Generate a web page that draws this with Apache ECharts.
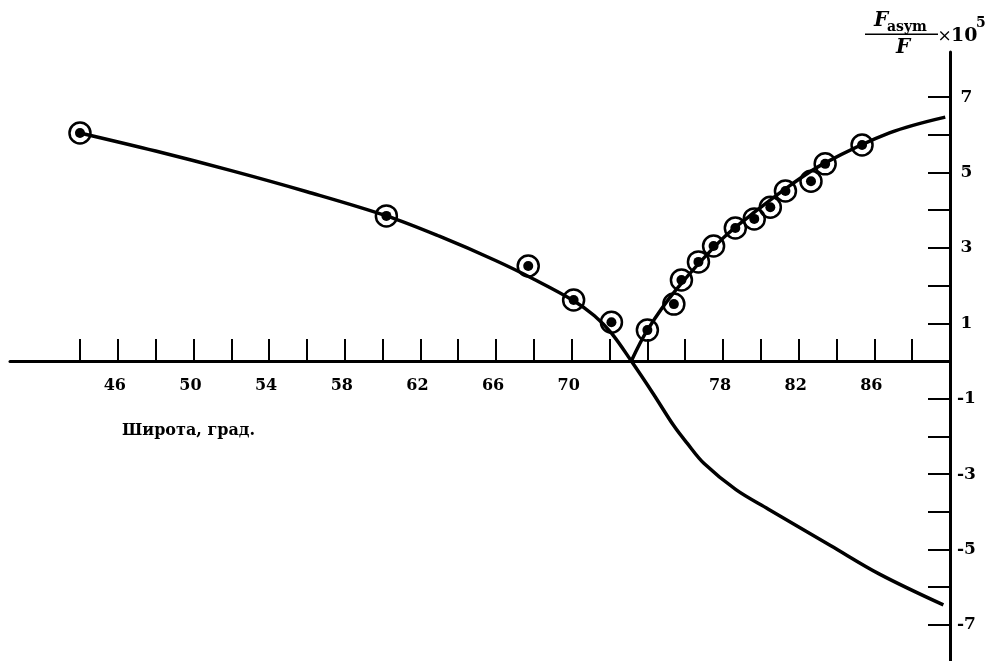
<!DOCTYPE html>
<html>
<head>
<meta charset="utf-8">
<script src="https://cdn.jsdelivr.net/npm/echarts@6/dist/echarts.min.js"></script>
<style>
  html, body { margin: 0; padding: 0; background: #fff; }
  #chart { width: 987px; height: 661px; }
</style>
</head>
<body>
<div id="chart"></div>
<script>
// Latitude (degrees) and asymmetry ratio (x 1e-5)

// Measured points
const obsLat = [44, 60.2, 67.7, 70.1, 72.1, 74.0, 75.4, 75.8, 76.7, 77.5, 78.65, 79.65, 80.5, 81.3, 82.65, 83.4, 85.35];
const obsVal = [6.05, 3.85, 2.52, 1.62, 1.03, 0.82, 1.51, 2.15, 2.63, 3.05, 3.53, 3.77, 4.08, 4.51, 4.77, 5.23, 5.73];

// Falling curve: descends through zero and continues into the negative branch
const fallLat = [44, 48, 52, 56, 60.2, 63, 66, 68, 70.1, 71.2, 72.1, 73.15, 74.3, 75.4, 76.1, 77.0, 78.7, 80.4, 83.7, 86.3, 89.65];
const fallVal = [6.05, 5.57, 5.05, 4.49, 3.85, 3.31, 2.66, 2.17, 1.60, 1.20, 0.74, 0, -0.86, -1.72, -2.18, -2.72, -3.42, -3.93, -4.90, -5.66, -6.47];

// Rising curve: starts at the zero crossing and climbs to the pole
const riseLat = [73.15, 74.0, 75.5, 78.0, 79.8, 81.55, 83.3, 86.8, 89.75];
const riseVal = [0, 0.82, 1.88, 3.26, 4.0, 4.66, 5.23, 6.05, 6.47];

// Axis ticks and labels
const xTicks = [44, 46, 48, 50, 52, 54, 56, 58, 60, 62, 64, 66, 68, 70, 72, 74, 76, 78, 80, 82, 84, 86, 88];
const xLabels = [46, 50, 54, 58, 62, 66, 70, 78, 82, 86];
const yTicks = [-7, -6, -5, -4, -3, -2, -1, 1, 2, 3, 4, 5, 6, 7];
const yLabels = [7, 5, 3, 1, -1, -3, -5, -7];

const pair = (xs, ys) => xs.map((x, i) => [x, ys[i]]);

const SERIF = '"DejaVu Serif", "Liberation Serif", serif';
const INK = '#000';

// Plot area and value ranges
const GRID_TOP = 51.9;
const GRID_H = 610.7;
const Y_MIN = -8;
const Y_MAX = 8.2;
// The latitude axis sits on the zero line: shift it up from the grid bottom
const zeroOffset = -GRID_H * (0 - Y_MIN) / (Y_MAX - Y_MIN);

const chart = echarts.init(document.getElementById('chart'), null, { renderer: 'canvas' });

chart.setOption({
  animation: false,
  backgroundColor: '#fff',
  grid: { left: 10, right: 37, top: GRID_TOP, height: GRID_H, containLabel: false, outerBoundsMode: 'none' },
  xAxis: {
    type: 'value',
    position: 'bottom',
    min: 40.3,
    max: 90,
    offset: zeroOffset,
    splitLine: { show: false },
    axisLine: { onZero: false, lineStyle: { color: INK, width: 3 } },
    axisTick: { show: true, inside: true, length: 22, lineStyle: { color: INK, width: 2 }, customValues: xTicks },
    axisLabel: {
      customValues: xLabels,
      color: INK, fontFamily: SERIF, fontWeight: 'bold', fontSize: 16,
      margin: 17, padding: [0, 6, 0, 0]
    }
  },
  yAxis: {
    type: 'value',
    position: 'right',
    min: Y_MIN,
    max: Y_MAX,
    splitLine: { show: false },
    axisLine: { onZero: false, lineStyle: { color: INK, width: 3 } },
    axisTick: { show: true, inside: true, length: 22, lineStyle: { color: INK, width: 2 }, customValues: yTicks },
    axisLabel: {
      customValues: yLabels,
      color: INK, fontFamily: SERIF, fontWeight: 'bold', fontSize: 17,
      align: 'center', margin: 16.5
    }
  },
  series: [
    {
      type: 'line',
      data: pair(fallLat, fallVal),
      showSymbol: false,
      smooth: 0.35,
      lineStyle: { color: INK, width: 3.5 },
      z: 2
    },
    {
      type: 'line',
      data: pair(riseLat, riseVal),
      showSymbol: false,
      smooth: 0.35,
      lineStyle: { color: INK, width: 3.5 },
      z: 2
    },
    {
      type: 'scatter',
      data: pair(obsLat, obsVal),
      symbol: 'circle',
      symbolSize: 21,
      itemStyle: { color: 'rgba(255,255,255,0)', borderColor: INK, borderWidth: 2.5, opacity: 1 },
      z: 3
    },
    {
      type: 'scatter',
      data: pair(obsLat, obsVal),
      symbol: 'circle',
      symbolSize: 10,
      itemStyle: { color: INK, opacity: 1 },
      z: 4
    }
  ],
  graphic: [
    {
      type: 'text', left: 122, top: 423,
      style: { text: 'Широта, град.', font: 'bold 16px ' + SERIF, fill: INK }
    },
    {
      type: 'text', x: 881, y: 21,
      style: { text: 'F', font: 'italic bold 20px ' + SERIF, fill: INK, align: 'center', verticalAlign: 'middle' }
    },
    {
      type: 'text', x: 887, y: 27,
      style: { text: 'asym', font: 'bold 14px ' + SERIF, fill: INK, align: 'left', verticalAlign: 'middle' }
    },
    {
      type: 'line',
      shape: { x1: 865, y1: 34.3, x2: 938, y2: 34.3 },
      style: { stroke: INK, lineWidth: 1.5 }
    },
    {
      type: 'text', x: 903, y: 47.5,
      style: { text: 'F', font: 'italic bold 20px ' + SERIF, fill: INK, align: 'center', verticalAlign: 'middle' }
    },
    {
      type: 'text', x: 944.5, y: 37,
      style: { text: '×', font: '17px ' + SERIF, fill: INK, align: 'center', verticalAlign: 'middle' }
    },
    {
      type: 'text', x: 951, y: 36,
      style: { text: '10', font: 'bold 19px ' + SERIF, fill: INK, align: 'left', verticalAlign: 'middle' }
    },
    {
      type: 'text', x: 976, y: 23,
      style: { text: '5', font: 'bold 14px ' + SERIF, fill: INK, align: 'left', verticalAlign: 'middle' }
    }
  ]
});
</script>
</body>
</html>
